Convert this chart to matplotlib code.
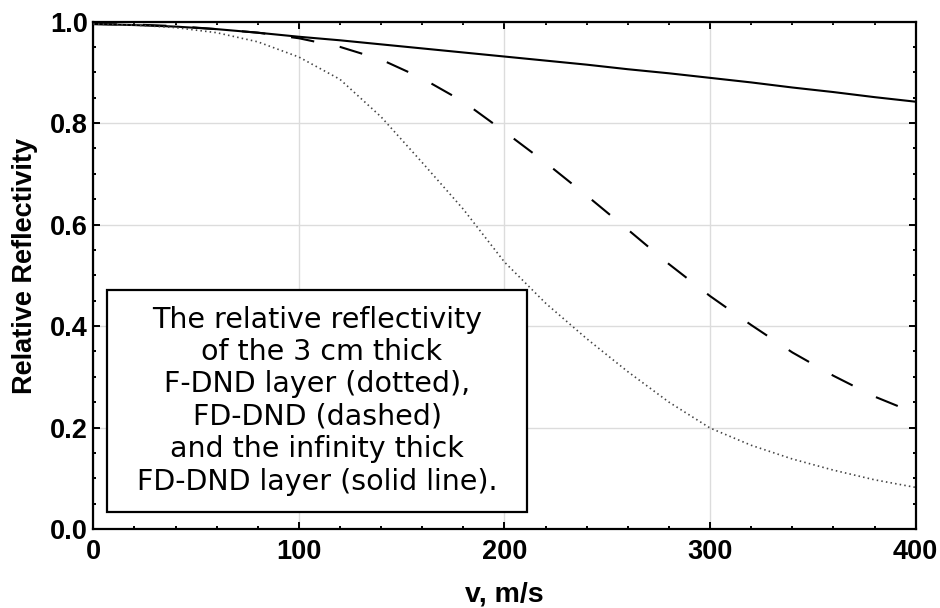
import matplotlib
matplotlib.use("Agg")
import matplotlib.pyplot as plt
from matplotlib import font_manager as fm
from matplotlib.patches import Rectangle
from matplotlib.ticker import MultipleLocator

# Data
velocity = [0, 20, 40, 60, 80, 100, 120, 140, 160, 180, 200,
            220, 240, 260, 280, 300, 320, 340, 360, 380, 400]
f_dnd_3cm = [0.995, 0.993, 0.988, 0.978, 0.960, 0.930, 0.886, 0.812, 0.722, 0.630, 0.526,
             0.445, 0.375, 0.310, 0.250, 0.199, 0.165, 0.138, 0.116, 0.097, 0.082]
fd_dnd_3cm = [0.995, 0.994, 0.991, 0.985, 0.978, 0.967, 0.950, 0.925, 0.888, 0.842, 0.783,
              0.722, 0.657, 0.590, 0.522, 0.459, 0.402, 0.348, 0.302, 0.261, 0.228]
fd_dnd_inf = [0.995, 0.993, 0.990, 0.985, 0.978, 0.970, 0.963, 0.955, 0.947, 0.939, 0.931,
              0.923, 0.915, 0.906, 0.898, 0.889, 0.880, 0.870, 0.861, 0.851, 0.842]

x_ticks = [0, 100, 200, 300, 400]
x_tick_labels = ["0", "100", "200", "300", "400"]
y_ticks = [0.0, 0.2, 0.4, 0.6, 0.8, 1.0]
y_tick_labels = ["0.0", "0.2", "0.4", "0.6", "0.8", "1.0"]
x_label = "v, m/s"
y_label = "Relative Reflectivity"
note = ("The relative reflectivity\n of the 3 cm thick\nF-DND layer (dotted),\n"
        "FD-DND (dashed)\nand the infinity thick\nFD-DND layer (solid line).")


def bold_sans(size):
    path = None
    for f in fm.findSystemFonts():
        name = f.replace("\\", "/").split("/")[-1].lower()
        if name in ("liberationsans-bold.ttf", "arialbd.ttf"):
            path = f
            break
    if path:
        return fm.FontProperties(fname=path, size=size)
    return fm.FontProperties(family="Liberation Sans", weight="bold", size=size)


tick_fp = bold_sans(19.5)
xlabel_fp = bold_sans(20.5)
ylabel_fp = bold_sans(19.5)

fig = plt.figure(figsize=(9.4, 6.08), dpi=100)
ax = fig.add_axes([0.0993, 0.1299, 0.8748, 0.8347])

ax.grid(True, color="#dcdcdc", linewidth=1.0, zorder=0)
ax.set_axisbelow(True)

ax.plot(velocity, fd_dnd_inf, color="black", linewidth=1.5, zorder=3)
ax.plot(velocity, fd_dnd_3cm, color="black", linewidth=1.5,
        linestyle=(0, (11.3, 12.5)), zorder=3)
ax.plot(velocity, f_dnd_3cm, color="#444444", linewidth=1.2,
        linestyle=(0, (0.9, 1.9)), zorder=3)

ax.set_xlim(0, 400)
ax.set_ylim(0, 1.0)
ax.set_xticks(x_ticks)
ax.set_xticklabels(x_tick_labels)
ax.set_yticks(y_ticks)
ax.set_yticklabels(y_tick_labels)
ax.xaxis.set_minor_locator(MultipleLocator(20))
ax.yaxis.set_minor_locator(MultipleLocator(0.05))

for lab in ax.get_xticklabels() + ax.get_yticklabels():
    lab.set_fontproperties(tick_fp)

ax.tick_params(which="both", direction="in", top=True, right=True, width=1.4, color="black")
ax.tick_params(which="major", length=5)
ax.tick_params(which="minor", length=2.5)
ax.tick_params(axis="x", which="major", pad=7)
ax.tick_params(axis="y", which="major", pad=4)

for s in ax.spines.values():
    s.set_linewidth(1.6)
    s.set_color("black")

ax.set_xlabel(x_label, fontproperties=xlabel_fp, labelpad=12)
ax.set_ylabel(y_label, fontproperties=ylabel_fp)
ax.yaxis.set_label_coords(-0.0672, 0.518)

box = Rectangle((0.0167, 0.0335), 0.5107, 0.437, transform=ax.transAxes,
                facecolor="white", edgecolor="black", linewidth=1.6, zorder=4)
ax.add_patch(box)
ax.text(0.272, 0.253, note, transform=ax.transAxes, ha="center", va="center",
        fontfamily="DejaVu Sans", fontsize=20.5, linespacing=1.2, zorder=5)

fig.savefig("out.png", dpi=100)
